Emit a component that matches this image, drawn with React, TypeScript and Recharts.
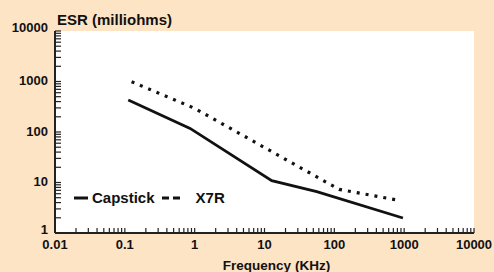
import { CartesianGrid, Legend, Line, LineChart, XAxis, YAxis } from "recharts";

// frequency in KHz, ESR in milliohms
const capstick = [
  { f: 0.112, esr: 430 },
  { f: 0.86, esr: 118 },
  { f: 12.7, esr: 10.9 },
  { f: 56, esr: 6.6 },
  { f: 960, esr: 1.98 },
];

const x7r = [
  { f: 0.125, esr: 990 },
  { f: 1, esr: 294 },
  { f: 117, esr: 7.3 },
  { f: 790, esr: 4.5 },
];

const xDecades = [0.01, 0.1, 1, 10, 100, 1000, 10000];
const xLabels = ["0.01", "0.1", "1", "10", "100", "1000", "10000"];
const yDecades = [1, 10, 100, 1000, 10000];
const yLabels = ["1", "10", "100", "1000", "10000"];
const minorSteps = [2, 3, 4, 5, 6, 7, 8, 9];

const withMinor = (decades: number[]) => [
  ...decades,
  ...decades.slice(0, -1).flatMap((d) => minorSteps.map((m) => d * m)),
];

const xTicks = withMinor(xDecades);
const yTicks = withMinor(yDecades);

const FONT = "'Liberation Sans', Arial, Helvetica, sans-serif";
const INK = "#111";
const BG = "#fde4c5";

function XTick(props: any) {
  const { x, y, payload } = props;
  const i = xDecades.indexOf(payload.value);
  return (
    <g>
      <line x1={x} x2={x} y1={y} y2={y - 5} stroke="#222" strokeWidth={1.2} />
      {i >= 0 && (
        <text
          x={x}
          y={y + 16}
          textAnchor="middle"
          fontFamily={FONT}
          fontWeight="bold"
          fontSize={13}
          fill={INK}
        >
          {xLabels[i]}
        </text>
      )}
    </g>
  );
}

function YTick(props: any) {
  const { x, y, payload } = props;
  const i = yDecades.indexOf(payload.value);
  // end labels sit a little inside the axis range, as in the original
  const edge = i === 0 || i === yDecades.length - 1;
  return (
    <g>
      <line x1={x} x2={x + 6} y1={y} y2={y} stroke="#222" strokeWidth={1.2} />
      {i >= 0 && (
        <text
          x={x - 7}
          y={y + (edge ? 1 : 3.5)}
          textAnchor="end"
          fontFamily={FONT}
          fontWeight="bold"
          fontSize={13}
          fill={INK}
        >
          {yLabels[i]}
        </text>
      )}
    </g>
  );
}

function LegendBox() {
  return (
    <div
      style={{
        display: "flex",
        alignItems: "center",
        fontFamily: FONT,
        fontWeight: "bold",
        fontSize: 15,
        color: INK,
        whiteSpace: "nowrap",
      }}
    >
      <svg width={15} height={10}>
        <line x1={0} x2={14} y1={5} y2={5} stroke={INK} strokeWidth={3} />
      </svg>
      <span style={{ marginLeft: 3 }}>Capstick</span>
      <svg width={20} height={10} style={{ marginLeft: 7 }}>
        <line
          x1={0}
          x2={19}
          y1={5}
          y2={5}
          stroke={INK}
          strokeWidth={3}
          strokeDasharray="7 4"
        />
      </svg>
      <span style={{ marginLeft: 14 }}>X7R</span>
    </div>
  );
}

export default function App() {
  return (
    <div
      style={{
        position: "absolute",
        left: 0,
        top: 0,
        width: 494,
        height: 272,
        background: BG,
      }}
    >
      <LineChart
        width={494}
        height={272}
        margin={{ top: 31, right: 20, bottom: 0, left: 0 }}
      >
        <CartesianGrid fill="#fff" horizontal={false} vertical={false} />
        <XAxis
          dataKey="f"
          type="number"
          scale="log"
          domain={[0.01, 10000]}
          allowDataOverflow
          ticks={xTicks}
          interval={0}
          height={39}
          tickSize={0}
          tickMargin={0}
          tickLine={false}
          tick={<XTick />}
          axisLine={{ stroke: "#222", strokeWidth: 2 }}
          label={{
            content: (p: any) => (
              <text
                x={p.viewBox.x + p.viewBox.width / 2 + 12}
                y={p.viewBox.y + 36.5}
                textAnchor="middle"
                fontFamily={FONT}
                fontWeight="bold"
                fontSize={13.5}
                fill={INK}
              >
                Frequency (KHz)
              </text>
            ),
          }}
        />
        <XAxis
          xAxisId="top"
          orientation="top"
          type="number"
          scale="log"
          domain={[0.01, 10000]}
          height={0}
          tick={false}
          tickLine={false}
          axisLine={{ stroke: "#444", strokeWidth: 2 }}
        />
        <YAxis
          type="number"
          scale="log"
          domain={[1, 10000]}
          allowDataOverflow
          ticks={yTicks}
          interval={0}
          width={55}
          tickSize={0}
          tickMargin={0}
          tickLine={false}
          tick={<YTick />}
          axisLine={{ stroke: "#222", strokeWidth: 2 }}
          label={{
            content: (p: any) => (
              <text
                x={p.viewBox.x + p.viewBox.width + 2}
                y={p.viewBox.y - 6}
                fontFamily={FONT}
                fontWeight="bold"
                fontSize={15}
                fill={INK}
              >
                ESR (milliohms)
              </text>
            ),
          }}
        />
        <YAxis
          yAxisId="right"
          orientation="right"
          type="number"
          scale="log"
          domain={[1, 10000]}
          width={0}
          tick={false}
          tickLine={false}
          axisLine={{ stroke: "#444", strokeWidth: 2 }}
        />
        <Legend
          layout="horizontal"
          verticalAlign="middle"
          align="center"
          content={() => <LegendBox />}
          wrapperStyle={{ left: 74, top: 189, width: "auto" }}
        />
        <Line
          data={capstick}
          dataKey="esr"
          name="Capstick"
          type="linear"
          stroke={INK}
          strokeWidth={2.8}
          dot={false}
          isAnimationActive={false}
        />
        <Line
          data={x7r}
          dataKey="esr"
          name="X7R"
          type="linear"
          stroke={INK}
          strokeWidth={3.2}
          strokeDasharray="3 6"
          dot={false}
          isAnimationActive={false}
        />
      </LineChart>
    </div>
  );
}
